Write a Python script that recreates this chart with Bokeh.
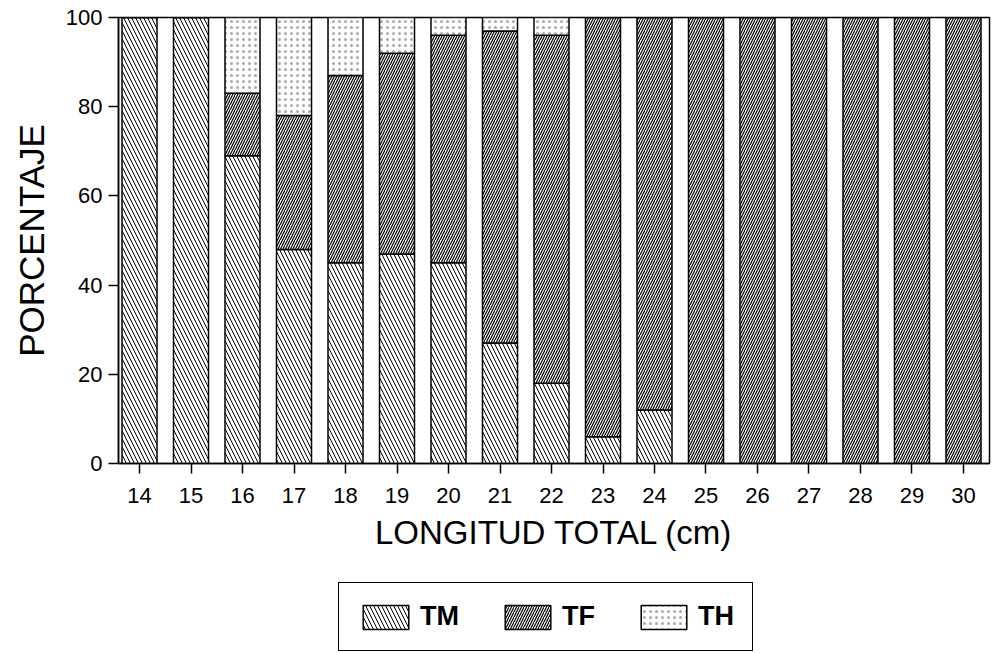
from bokeh.plotting import figure
from bokeh.models import ColumnDataSource, Legend, LegendItem, FixedTicker, Range1d
from bokeh.layouts import column
from bokeh.embed import file_html
from bokeh.resources import INLINE

longitud = [14, 15, 16, 17, 18, 19, 20, 21, 22, 23, 24, 25, 26, 27, 28, 29, 30]
tm = [100, 100, 69, 48, 45, 47, 45, 27, 18, 6, 12, 0, 0, 0, 0, 0, 0]
tf = [0, 0, 14, 30, 42, 45, 51, 70, 78, 94, 88, 100, 100, 100, 100, 100, 100]
th = [0, 0, 17, 22, 13, 8, 4, 3, 4, 0, 0, 0, 0, 0, 0, 0, 0]
y_ticks = [0, 20, 40, 60, 80, 100]
series = ["TM", "TF", "TH"]

src = ColumnDataSource(dict(x=longitud, TM=tm, TF=tf, TH=th))

FONT = "Liberation Sans"
patterns = ["left_diagonal_line", "right_diagonal_line", "dot"]
scales = [8, 5, 6]
weights = [1.0, 1.2, 0.8]
hcolors = ["black", "black", "#aaaaaa"]

p = figure(width=991, height=563, output_backend="svg", toolbar_location=None,
           x_range=Range1d(13.592, 30.505), y_range=Range1d(0, 100),
           min_border_left=118, min_border_top=17, min_border_right=2,
           min_border_bottom=100)

rs = p.vbar_stack(series, x="x", width=0.68, source=src,
                  fill_color="white", line_color="black", line_width=1.5,
                  hatch_pattern=patterns, hatch_scale=scales,
                  hatch_weight=weights, hatch_color=hcolors)

p.xgrid.visible = False
p.ygrid.visible = False
p.outline_line_color = "black"
p.outline_line_width = 1.5
p.background_fill_color = "white"
p.border_fill_color = "white"

for ax in (p.xaxis[0], p.yaxis[0]):
    ax.axis_line_color = "black"
    ax.axis_line_width = 1.5
    ax.major_tick_line_color = "black"
    ax.major_tick_line_width = 1.5
    ax.major_tick_in = 0
    ax.major_tick_out = 10
    ax.minor_tick_line_color = None
    ax.major_label_text_font = FONT
    ax.major_label_text_font_size = "22px"
    ax.major_label_text_color = "black"
    ax.axis_label_text_font = FONT
    ax.axis_label_text_font_style = "normal"
    ax.axis_label_text_color = "black"

p.xaxis.axis_label_text_font_size = "33px"
p.yaxis.axis_label_text_font_size = "35px"
p.xaxis.ticker = FixedTicker(ticks=longitud)
p.yaxis.ticker = FixedTicker(ticks=y_ticks)
p.xaxis.axis_label = "LONGITUD TOTAL (cm)"
p.yaxis.axis_label = "PORCENTAJE"
p.xaxis.major_label_standoff = 14
p.xaxis.axis_label_standoff = 8
p.yaxis.major_label_standoff = 6
p.yaxis.axis_label_standoff = 12

# legend panel below
p2 = figure(width=991, height=90, output_backend="svg", toolbar_location=None,
            x_range=Range1d(0, 1), y_range=Range1d(0, 1),
            x_axis_location=None, y_axis_location=None,
            min_border_left=0, min_border_right=0, min_border_top=0, min_border_bottom=0)
p2.xgrid.visible = False
p2.ygrid.visible = False
p2.outline_line_color = None
p2.background_fill_color = "white"
p2.border_fill_color = "white"

# legend proxies, hidden behind the opaque legend box
items = []
for name, pat, sc, wt, hc in zip(series, patterns, scales, weights, hcolors):
    r = p2.vbar(x=[0.5], bottom=[0.4], top=[0.6], width=0.05, fill_color="white",
                line_color="black", line_width=1.5, hatch_pattern=pat, hatch_scale=sc,
                hatch_weight=wt, hatch_color=hc)
    items.append(LegendItem(label=name, renderers=[r]))

legend = Legend(items=items, orientation="horizontal", location=(220, 2),
                glyph_width=57, glyph_height=30, label_standoff=6,
                spacing=40, padding=18, margin=0,
                label_text_font=FONT, label_text_font_size="27px",
                label_text_font_style="bold", label_text_color="black",
                border_line_color="black", border_line_width=1.5, border_line_alpha=1.0,
                background_fill_color="white", background_fill_alpha=1.0)
p2.add_layout(legend, "center")

layout = column(p, p2, spacing=0)
open("out.html", "w").write(file_html(layout, INLINE))
